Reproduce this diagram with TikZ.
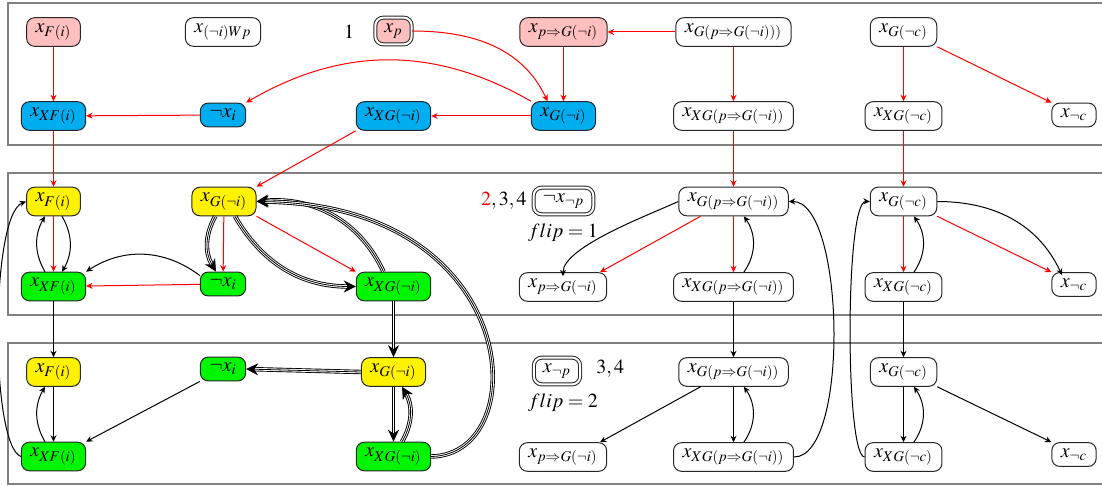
\documentclass[tikz,border=0pt]{standalone}
\usepackage{mathptmx}
\usetikzlibrary{arrows.meta,calc}
\definecolor{pinkc}{RGB}{255,191,191}
\definecolor{bluec}{RGB}{0,174,239}
\definecolor{yellowc}{RGB}{255,242,0}
\definecolor{greenc}{RGB}{0,245,0}
\tikzset{
  st/.style={draw=black!85, line width=0.5pt, rounded corners=4pt, inner xsep=4.5pt, inner ysep=3pt, font=\normalsize},
  pk/.style={st, fill=pinkc},
  bl/.style={st, fill=bluec},
  ye/.style={st, fill=yellowc},
  gr/.style={st, fill=greenc},
  wh/.style={st, fill=white},
  dblbox/.style={double=white, double distance=1pt},
  panel/.style={draw=black!50, line width=1.3pt},
  ra/.style={draw=red, line width=0.5pt, -{Stealth[length=3.2pt,width=3pt]}},
  ba/.style={draw=black, line width=0.5pt, -{Stealth[length=3.2pt,width=3pt]}},
  tri/.style={draw=black, line width=0.4pt,
    preaction={draw=black, line width=2.2pt, -, shorten >=4pt},
    preaction={draw=white, line width=1.3pt, -, shorten >=4pt},
    -{Stealth[length=6pt,width=6pt,black]}},
  dbl/.style={draw=white, line width=0.6pt,
    preaction={draw=black, line width=1.8pt, -, shorten >=4pt},
    -{Stealth[length=6pt,width=5.5pt,black]}},
  lbl/.style={inner sep=0pt, font=\normalsize}
}
\begin{document}
\begin{tikzpicture}[x=0.5pt,y=-0.5pt]
\useasboundingbox (0,0) rectangle (1102,486);
% panels
\draw[panel] (8,3) rectangle (1112,145);
\draw[panel] (8,173) rectangle (1112,315);
\draw[panel] (8,343) rectangle (1112,484);

% row 1
\node[pk] (fi1) at (53.5,32) {$x_{F(i)}$};
\node[wh] (wp1) at (223,32) {$x_{(\neg i)Wp}$};
\node[lbl] (one) at (349,32) {$1$};
\node[pk,dblbox] (xp1) at (393.5,31) {$x_{p}$};
\node[pk] (pg1) at (563.5,32) {$x_{p\Rightarrow G(\neg i)}$};
\node[wh] (gpp1) at (733.5,32) {$x_{G(p\Rightarrow G(\neg i)))}$};
\node[wh] (gc1) at (903.5,32) {$x_{G(\neg c)}$};
% row 2
\node[bl] (xfi2) at (53.5,116) {$x_{XF(i)}$};
\node[bl] (nxi2) at (223,115) {$\neg x_{i}$};
\node[bl] (xgi2) at (393.5,116) {$x_{XG(\neg i)}$};
\node[bl] (gni2) at (563.5,116) {$x_{G(\neg i)}$};
\node[wh] (xgp2) at (733.5,116) {$x_{XG(p\Rightarrow G(\neg i))}$};
\node[wh] (xgc2) at (903.5,116) {$x_{XG(\neg c)}$};
\node[wh] (nc2) at (1074,115) {$x_{\neg c}$};
% row 3
\node[ye] (fi3) at (53.5,201.5) {$x_{F(i)}$};
\node[ye] (gni3) at (224,201.5) {$x_{G(\neg i)}$};
\node[wh,dblbox] (nnp3) at (563.5,201) {$\neg x_{\neg p}$};
\node[lbl, anchor=east] (lbl234) at (527,201) {$\textcolor{red}{2},3,4$};
\node[lbl] (flip1) at (563,233) {$flip=1$};
\node[wh] (gp3) at (733.5,201.5) {$x_{G(p\Rightarrow G(\neg i))}$};
\node[wh] (gc3) at (903.5,201.5) {$x_{G(\neg c)}$};
% row 4
\node[gr] (xfi4) at (53.5,286.5) {$x_{XF(i)}$};
\node[gr] (nxi4) at (223,284) {$\neg x_{i}$};
\node[gr] (xgi4) at (393.5,286.5) {$x_{XG(\neg i)}$};
\node[wh] (pg4) at (563,287) {$x_{p\Rightarrow G(\neg i)}$};
\node[wh] (xgp4) at (733.5,287) {$x_{XG(p\Rightarrow G(\neg i))}$};
\node[wh] (xgc4) at (903.5,287) {$x_{XG(\neg c)}$};
\node[wh] (nc4) at (1074,284.5) {$x_{\neg c}$};
% row 5
\node[ye] (fi5) at (53.5,372) {$x_{F(i)}$};
\node[gr] (nxi5) at (223,369) {$\neg x_{i}$};
\node[ye] (gni5) at (393.5,372) {$x_{G(\neg i)}$};
\node[wh,dblbox] (np5) at (557,371) {$x_{\neg p}$};
\node[lbl, anchor=west] (lbl34) at (596,369) {$3,4$};
\node[lbl] (flip2) at (563,403) {$flip=2$};
\node[wh] (gp5) at (733.5,372) {$x_{G(p\Rightarrow G(\neg i))}$};
\node[wh] (gc5) at (903.5,372) {$x_{G(\neg c)}$};
% row 6
\node[gr] (xfi6) at (53.5,456.5) {$x_{XF(i)}$};
\node[gr] (xgi6) at (393.5,456.5) {$x_{XG(\neg i)}$};
\node[wh] (pg6) at (563,457) {$x_{p\Rightarrow G(\neg i)}$};
\node[wh] (xgp6) at (733.5,457) {$x_{XG(p\Rightarrow G(\neg i))}$};
\node[wh] (xgc6) at (903.5,457) {$x_{XG(\neg c)}$};
\node[wh] (nc6) at (1074,454.5) {$x_{\neg c}$};

% red edges
\draw[ra] (fi1) -- (xfi2);
\draw[ra] (nxi2) -- (xfi2);
\draw[ra] (gni2.north west) to[bend right=30] (nxi2.north east);
\draw[ra] (gni2) -- (xgi2);
\draw[ra] (xp1.east) to[out=0,in=115] ($(gni2.north)+(-16,0)$);
\draw[ra] (pg1) -- (gni2);
\draw[ra] (gpp1) -- (pg1);
\draw[ra] (gpp1) -- (xgp2);
\draw[ra] (gc1) -- (xgc2);
\draw[ra] (gc1.south east) -- (nc2.north west);
\draw[ra] (xfi2) -- (fi3);
\draw[ra] (xgi2.south west) -- (gni3.north east);
\draw[ra] (xgp2) -- (gp3);
\draw[ra] (xgc2) -- (gc3);
\draw[ra] (fi3) -- (xfi4);
\draw[ra] (nxi4) -- (xfi4);
\draw[ra] (gni3) -- (nxi4);
\draw[ra] (gni3.south east) -- (xgi4.north west);
\draw[ra] ($(gp3.south)+(-33,0)$) -- ($(pg4.north)+(37,0)$);
\draw[ra] (gp3) -- (xgp4);
\draw[ra] (gc3) -- (xgc4);
\draw[ra] (gc3.south east) -- (nc4.north west);

% black edges, panel 2
\draw[ba] (fi3) to[bend left=30] (xfi4);
\draw[ba] (xfi4) to[bend left=30] (fi3);
\draw[ba] (nxi4.160) to[bend right=35] (xfi4.north east);
\draw[ba] (gp3.west) to[out=205,in=90,looseness=0.55] ($(pg4.north)+(0,4)$);
\draw[ba] (xgp4) to[bend right=35] (gp3);
\draw[ba] (xgc4) to[bend right=35] (gc3);
\draw[ba] (gc3.east) to[out=0,in=115] ($(nc4.north)+(-12,3)$);
% between panels 2 and 3
\draw[ba] (xfi4) -- (fi5);
\draw[ba] (xgp4) -- (gp5);
\draw[ba] (xgc4) -- (gc5);
% panel 3
\draw[ba] (fi5) -- (xfi6);
\draw[ba] (xfi6) to[bend left=30] (fi5);
\draw[ba] (nxi5.south west) -- (xfi6.north east);
\draw[ba] ($(gp5.south)+(-33,0)$) -- ($(pg6.north)+(37,0)$);
\draw[ba] (gp5) -- (xgp6);
\draw[ba] (xgp6) to[bend right=35] (gp5);
\draw[ba] (gc5) -- (xgc6);
\draw[ba] (xgc6) to[bend right=35] (gc5);
\draw[ba] (gc5.south east) -- (nc6.north west);
% long black curves
\draw[ba] (xfi6.west) .. controls (-10,445) and (-10,215) .. (fi3.west);
\draw[ba] (xgp6.east) .. controls (850,457) and (845,201) .. (gp3.east);
\draw[ba] (xgc6.west) .. controls (845,456) and (845,201) .. (gc3.west);

% triple / double edges
\draw[tri] (gni3) to[bend right=30] (nxi4);
\draw[tri] ($(gni3.south)+(11,0)$) to[out=-60,in=180] (xgi4.west);
\draw[tri] ($(xgi4.north)+(-10,0)$) to[out=115,in=5] (gni3.east);
\draw[tri] (xgi6.east) .. controls (535,455) and (525,205) .. (gni3.east);
\draw[tri] (gni5.west) -- (nxi5.east);
\draw[tri] (xgi6) to[bend right=30] (gni5);
\draw[dbl] (xgi4) -- (gni5);
\draw[dbl] (gni5) -- (xgi6);
\end{tikzpicture}
\end{document}
